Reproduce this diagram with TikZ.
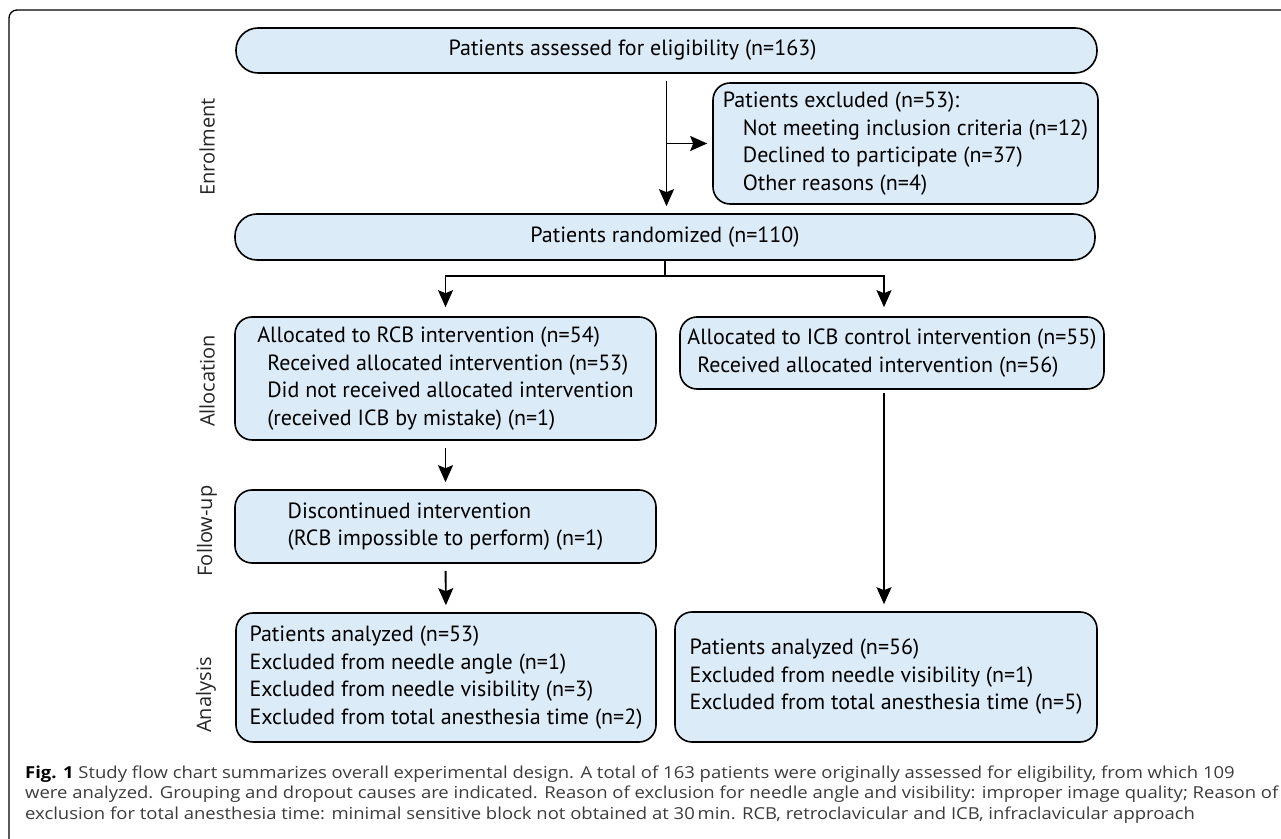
\documentclass[tikz,border=0pt]{standalone}
\usepackage{fontspec}
\setmainfont{PT Sans}
\newfontfamily\capfont{Open Sans}
\newfontfamily\capwidefont{Open Sans}[FakeStretch=1.12]
\usetikzlibrary{arrows.meta,positioning}
\definecolor{boxfill}{RGB}{219,235,248}
\definecolor{capgray}{RGB}{60,60,60}

\begin{document}
\begin{tikzpicture}[>={Stealth[length=17bp,width=15bp,inset=3bp]},
  box/.style={draw, line width=1.6bp, fill=boxfill, rounded corners=17bp,
    inner sep=0pt, align=left, font=\fontsize{22bp}{27.5bp}\selectfont},
  pill/.style={box, rounded corners=22bp, align=center},
  phase/.style={rotate=90, text=black!85, font=\capfont\fontsize{20bp}{24bp}\selectfont},
  capline/.style={anchor=base west, inner sep=0pt, text=capgray, font=\capwidefont\fontsize{16.5bp}{20.5bp}\selectfont},
  flow/.style={->, line width=1.9bp, shorten <=7bp, shorten >=7bp}]
%%
  \useasboundingbox (0bp,0bp) rectangle (1281bp,839bp);
  \draw [line width=1.3bp, rounded corners=8bp] (9bp,-5bp) -- (9bp,829bp) -- (1290bp,829bp);
%% boxes
  \node (elig) at (666.5bp,788.5bp) [pill, minimum width=861bp, minimum height=45bp]
    {Patients assessed for eligibility (n=163)\hspace*{68bp}};
  \node (excl) at (905.5bp,695.5bp) [box, minimum width=385bp, minimum height=121bp]
    {Patients excluded (n=53):\\
     \hspace*{20bp}Not meeting inclusion criteria (n=12)\\
     \hspace*{20bp}Declined to participate (n=37)\\
     \hspace*{20bp}Other reasons (n=4)};
  \node (rand) at (665bp,602bp) [pill, minimum width=860bp, minimum height=46bp]
    {Patients randomized (n=110)};
  \node (allocRCB) at (445.5bp,460.5bp) [box, minimum width=421bp, minimum height=123bp]
    {Allocated to RCB intervention (n=54)\\
     \hspace*{10bp}Received allocated intervention (n=53)\\
     \hspace*{10bp}Did not received allocated intervention\\
     \hspace*{10bp}(received ICB by mistake) (n=1)};
  \node (allocICB) at (892bp,486bp) [box, minimum width=424bp, minimum height=72bp]
    {Allocated to ICB control intervention (n=55)\\
     \hspace*{10bp}Received allocated intervention (n=56)};
  \node (follow) at (445.5bp,312.5bp) [box, minimum width=421bp, minimum height=73bp]
    {Discontinued intervention\\
     (RCB impossible to perform) (n=1)};
  \node (analRCB) at (446bp,161.5bp) [box, minimum width=420bp, minimum height=129bp]
    {Patients analyzed (n=53)\\
     Excluded from needle angle (n=1)\\
     Excluded from needle visibility (n=3)\\
     Excluded from total anesthesia time (n=2)};
  \node (analICB) at (886bp,162bp) [box, minimum width=422bp, minimum height=130bp]
    {Patients analyzed (n=56)\\
     Excluded from needle visibility (n=1)\\
     Excluded from total anesthesia time (n=5)};
%% phases
  \node (enrol) at (207bp,692bp) [phase] {Enrolment};
  \node (alloc) at (207bp,458bp) [phase] {Allocation};
  \node (fup) at (207bp,308bp) [phase] {Follow-up};
  \node (anal) at (206bp,144bp) [phase] {Analysis};
%% arrows
  \draw [flow] (elig.south) -- (elig.south |- rand.north);
  \draw [flow, shorten <=0bp, shorten >=5bp] (elig.south |- excl.west) -- (excl.west);
  \draw [line width=1.9bp] (rand.south) -- ++(0bp,-15bp) coordinate (split);
  \draw [flow, shorten <=0bp, shorten >=9bp] (split) -| (allocRCB.north);
  \draw [flow, shorten <=0bp, shorten >=9bp] (split) -| ([xshift=-8bp]allocICB.north);
  \draw [flow] (allocRCB.south) -- (follow.north);
  \draw [flow] (follow.south) -- (analRCB.north);
  \draw [flow, shorten <=3bp] ([xshift=-8bp]allocICB.south) -- ([xshift=-8bp]allocICB.south |- analICB.north);
%% caption
  \node (cap1) at (25bp,60.5bp) [capline]
    {{\color{black}\bfseries Fig. 1} Study flow chart summarizes overall experimental design. A total of 163 patients were originally assessed for eligibility, from which 109};
  \node (cap2) at (25bp,40bp) [capline]
    {were analyzed. Grouping and dropout causes are indicated. Reason of exclusion for needle angle and visibility: improper image quality; Reason of};
  \node (cap3) at (25bp,19.5bp) [capline]
    {exclusion for total anesthesia time: minimal sensitive block not obtained at 30\,min. RCB, retroclavicular and ICB, infraclavicular approach};
%
\end{tikzpicture}
\end{document}
